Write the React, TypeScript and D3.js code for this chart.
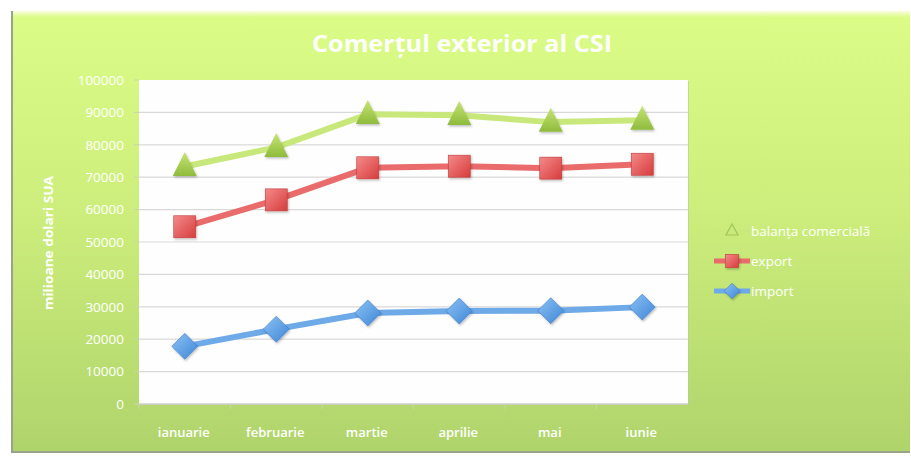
import React from 'react';
import * as d3 from 'd3';

const months = ['ianuarie', 'februarie', 'martie', 'aprilie', 'mai', 'iunie'];
const balanta = [73300, 79200, 89400, 89100, 87000, 87600];
const exportVals = [54700, 63000, 72900, 73400, 72800, 74000];
const importVals = [17800, 23100, 28100, 28700, 28800, 29900];
const yTicks = [0, 10000, 20000, 30000, 40000, 50000, 60000, 70000, 80000, 90000, 100000];

const W = 911, H = 456;
const plot = {left: 139, top: 80, right: 688, bottom: 404};

export default function App() {
  const x = d3.scaleBand().domain(months).range([plot.left, plot.right]);
  const y = d3.scaleLinear().domain([0, 100000]).range([plot.bottom, plot.top]);
  const cx = (m: string) => (x(m) as number) + x.bandwidth() / 2;
  const line = d3.line<number>().x((d, i) => cx(months[i])).y(d => y(d));

  const series = [
    {name: 'balanța comercială', vals: balanta, line: '#c9e87c', fill: 'url(#gTri)', shape: 'tri'},
    {name: 'export', vals: exportVals, line: '#e96b6b', fill: 'url(#gSq)', shape: 'sq'},
    {name: 'import', vals: importVals, line: '#6eaae8', fill: 'url(#gDia)', shape: 'dia'},
  ];

  const marker = (shape: string, px: number, py: number, fill: string, s = 1, key?: any) => {
    if (shape === 'tri') {
      const h = 24 * s, w = 24 * s;
      return <path key={key} d={`M${px},${py - h * 0.6}L${px + w / 2},${py + h * 0.4}L${px - w / 2},${py + h * 0.4}Z`} fill={fill} filter="url(#shadow)"/>;
    }
    if (shape === 'sq') {
      const a = 22 * s;
      return <rect key={key} x={px - a / 2} y={py - a / 2} width={a} height={a} fill={fill} stroke="#c23a3a" strokeWidth={0.6} filter="url(#shadow)"/>;
    }
    const r = 13 * s;
    return <path key={key} d={`M${px},${py - r}L${px + r},${py}L${px},${py + r}L${px - r},${py}Z`} fill={fill} stroke="#3d7bc4" strokeWidth={0.6} filter="url(#shadow)"/>;
  };

  return (
    <svg width={W} height={H} style={{position: 'absolute', left: 0, top: 0, display: 'block'}}
      fontFamily="'Open Sans', 'Noto Sans', sans-serif">
      <defs>
        <linearGradient id="bg" x1="0" y1="0" x2="0" y2="1">
          <stop offset="0" stopColor="#dcfc88"/>
          <stop offset="0.45" stopColor="#cdee7c"/>
          <stop offset="1" stopColor="#b0d46c"/>
        </linearGradient>
        <linearGradient id="glare" x1="0" y1="0" x2="0" y2="1">
          <stop offset="0" stopColor="#fbfde0"/>
          <stop offset="1" stopColor="#dcfc88"/>
        </linearGradient>
        <linearGradient id="gTri" x1="0" y1="0" x2="0" y2="1">
          <stop offset="0" stopColor="#c6e474"/>
          <stop offset="1" stopColor="#8fbb3c"/>
        </linearGradient>
        <linearGradient id="gSq" x1="0" y1="0" x2="1" y2="1">
          <stop offset="0" stopColor="#f58a8a"/>
          <stop offset="1" stopColor="#d63c3c"/>
        </linearGradient>
        <linearGradient id="gDia" x1="0" y1="0" x2="1" y2="1">
          <stop offset="0" stopColor="#8cc2f5"/>
          <stop offset="1" stopColor="#3f86d6"/>
        </linearGradient>
        <filter id="shadow" x="-30%" y="-30%" width="160%" height="160%">
          <feDropShadow dx="1" dy="1.5" stdDeviation="1" floodColor="#000" floodOpacity="0.25"/>
        </filter>
      </defs>
      <rect x={0} y={0} width={W} height={H} fill="#fff"/>
      <rect x={11} y={11} width={899} height={442} fill="#9aa38a"/>
      <rect x={13} y={11} width={897} height={440} fill="url(#bg)"/>
      <rect x={13} y={11} width={897} height={6} fill="url(#glare)"/>

      <text x={462} y={52} textAnchor="middle" fill="#fff" fontWeight="bold" fontSize={24}
        textLength={300} lengthAdjust="spacingAndGlyphs">Comerțul exterior al CSI</text>

      {/* plot area */}
      <rect x={plot.left + 1} y={plot.top + 1} width={plot.right - plot.left} height={plot.bottom - plot.top} fill="#b9c6a0" opacity={0.6}/>
      <rect x={plot.left} y={plot.top} width={plot.right - plot.left} height={plot.bottom - plot.top} fill="#fefefe"/>

      {yTicks.map(t => (
        <g key={t}>
          {t > 0 && t < 100000 && <line x1={plot.left} x2={plot.right} y1={y(t)} y2={y(t)} stroke="#d9d9d9" strokeWidth={1.2}/>}
          <line x1={plot.left - 5} x2={plot.left} y1={y(t)} y2={y(t)} stroke="#c9d6a8" strokeWidth={1}/>
          <text x={plot.left - 15} y={y(t)} dy="0.35em" textAnchor="end" fill="#fff" fontSize={13.5} fontWeight={500}>{t}</text>
        </g>
      ))}
      <line x1={plot.left} x2={plot.right} y1={plot.bottom} y2={plot.bottom} stroke="#cfcfcf" strokeWidth={1.5}/>
      {months.map(m => (
        <g key={m}>
          <line x1={x(m)} x2={x(m)} y1={plot.bottom} y2={plot.bottom + 5} stroke="#c9d6a8"/>
          <text x={cx(m) - 1} y={437} textAnchor="middle" fill="#fff" fontSize={13} fontWeight={600}>{m}</text>
        </g>
      ))}

      <text transform="translate(53,243) rotate(-90)" textAnchor="middle" fill="#fff" fontSize={12} fontWeight="bold"
        textLength={134} lengthAdjust="spacingAndGlyphs">milioane dolari SUA</text>

      {series.map(s => (
        <g key={s.name}>
          <path d={line(s.vals) as string} fill="none" stroke={s.line} strokeWidth={6} strokeLinejoin="round"/>
          {s.vals.map((v, i) => marker(s.shape, cx(months[i]), y(v), s.fill, 1, i))}
        </g>
      ))}

      {/* legend */}
      {series.map((s, i) => {
        const ly = 231 + i * 30;
        return (
          <g key={s.name}>
            <line x1={714} x2={750} y1={ly} y2={ly} stroke={s.line} strokeWidth={i === 0 ? 3 : 5} opacity={i === 0 ? 0.6 : 1}/>
            {i === 0
              ? <path d={`M732,${ly - 7}L738,${ly + 4}L726,${ly + 4}Z`} fill="none" stroke="#9fc45a" strokeWidth={1.2}/>
              : marker(s.shape, 732, ly, s.fill, 0.6)}
            <text x={751} y={ly} dy="0.35em" fill="#fff" fontSize={13.5} fontWeight={500}>{s.name}</text>
          </g>
        );
      })}
    </svg>
  );
}
